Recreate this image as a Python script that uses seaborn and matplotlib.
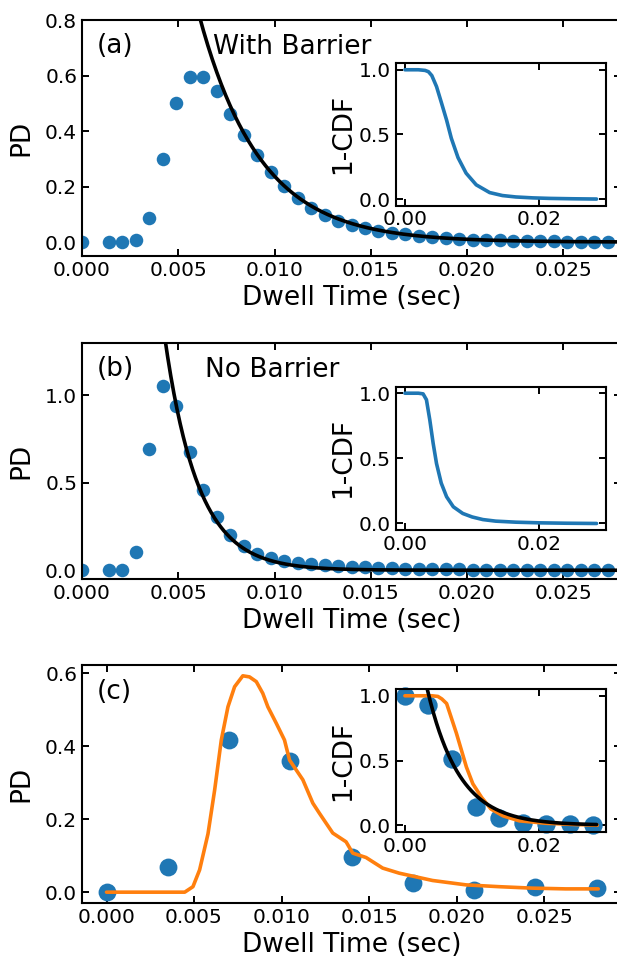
import numpy as np
import pandas as pd
import matplotlib
matplotlib.use("Agg")
import matplotlib.pyplot as plt
import seaborn as sns

# ---------------- data ----------------
bin_width = 0.0007
t_bins = np.arange(40) * bin_width

pd_a = [0.0, np.nan, 0.0, 0.0, 0.007, 0.087, 0.300, 0.500, 0.595, 0.595,
        0.543, 0.463, 0.386, 0.313, 0.253, 0.203, 0.159, 0.122, 0.097, 0.075,
        0.061, 0.050, 0.041, 0.034, 0.028, 0.022, 0.018, 0.014, 0.011, 0.009,
        0.007, 0.006, 0.005, 0.004, 0.003, 0.003, 0.002, 0.002, 0.001, 0.001]

pd_b = [0.0, np.nan, 0.0, 0.0, 0.105, 0.694, 1.053, 0.939, 0.678, 0.460,
        0.302, 0.200, 0.137, 0.093, 0.071, 0.054, 0.042, 0.034, 0.028, 0.023,
        0.019, 0.016, 0.013, 0.011, 0.009, 0.008, 0.007, 0.006, 0.005, 0.004,
        0.004, 0.003, 0.003, 0.002, 0.002, 0.002, 0.001, 0.001, 0.001, 0.001]

# exponential fits (amplitude, decay time)
fit_a_amp, fit_a_tau = 5.57, 0.00317
fit_b_amp, fit_b_tau = 15.96, 0.00173
fit_c_amp, fit_c_tau = 2.11, 0.00477

# inset 1-CDF curves
cdf_a_t = [0, 0.001, 0.002, 0.003, 0.0035, 0.004, 0.0047, 0.0054, 0.0062, 0.0069,
           0.0079, 0.0091, 0.0106, 0.0126, 0.0145, 0.0165, 0.019, 0.0215, 0.025, 0.0285]
cdf_a_v = [1.0, 1.0, 1.0, 0.995, 0.985, 0.955, 0.87, 0.75, 0.61, 0.47,
           0.32, 0.20, 0.11, 0.05, 0.027, 0.016, 0.009, 0.005, 0.002, 0.0]

cdf_b_t = [0, 0.001, 0.002, 0.0027, 0.0032, 0.0037, 0.0042, 0.0047, 0.0054, 0.0062,
           0.0072, 0.0086, 0.010, 0.0116, 0.0135, 0.0165, 0.020, 0.024, 0.0285]
cdf_b_v = [1.0, 1.0, 1.0, 0.995, 0.95, 0.795, 0.615, 0.46, 0.31, 0.205,
           0.128, 0.077, 0.05, 0.03, 0.018, 0.01, 0.005, 0.002, 0.0]

# panel (c): experiment points and simulation curve
t_exp = [0.0, 0.0035, 0.007, 0.0105, 0.014, 0.0175, 0.021, 0.0245, 0.028]
pd_exp = [0.0, 0.07, 0.417, 0.36, 0.0975, 0.026, 0.006, 0.014, 0.011]
cdf_exp = [1.0, 0.93, 0.514, 0.137, 0.052, 0.02, 0.013, 0.008, 0.0]

sim_t = [0, 0.002, 0.00447, 0.00494, 0.00532, 0.0058, 0.00618, 0.00656, 0.00694, 0.00732,
         0.00779, 0.00817, 0.00856, 0.00893, 0.00922, 0.0097, 0.01017, 0.01046, 0.01084,
         0.01122, 0.01179, 0.01217, 0.01293, 0.01369, 0.01407, 0.01483, 0.01578, 0.01673,
         0.01863, 0.02054, 0.02244, 0.02434, 0.02624, 0.0281]
sim_pd = [0, 0, 0, 0.015, 0.061, 0.16, 0.28, 0.417, 0.508, 0.563,
          0.593, 0.59, 0.577, 0.545, 0.508, 0.463, 0.417, 0.362, 0.335,
          0.308, 0.244, 0.216, 0.162, 0.138, 0.107, 0.095, 0.066, 0.052,
          0.032, 0.02, 0.015, 0.011, 0.009, 0.009]

sim_cdf_t = [0, 0.002, 0.004, 0.0049, 0.0055, 0.0062, 0.0069, 0.00766, 0.0084, 0.00914,
             0.0101, 0.0114, 0.0128, 0.0146, 0.017, 0.021, 0.025, 0.0286]
sim_cdf_v = [1.0, 1.0, 1.0, 0.995, 0.975, 0.94, 0.83, 0.71, 0.58, 0.45,
             0.32, 0.215, 0.125, 0.072, 0.034, 0.015, 0.006, 0.0]

main_xticks = [0.0, 0.005, 0.010, 0.015, 0.020, 0.025]
main_xticklabels = ["0.000", "0.005", "0.010", "0.015", "0.020", "0.025"]
inset_xticks = [0.0, 0.02]
inset_xticklabels = ["0.00", "0.02"]
inset_yticks = [0.0, 0.5, 1.0]
inset_yticklabels = ["0.0", "0.5", "1.0"]

# ---------------- style ----------------
sns.set_style("ticks")
plt.rcParams["font.family"] = ["DejaVu Sans"]
plt.rcParams.update({"text.color": "black", "axes.labelcolor": "black",
                     "xtick.color": "black", "ytick.color": "black",
                     "axes.edgecolor": "black"})
BLUE = "#1f77b4"
ORANGE = "#ff7f0e"
TICK_FS = 14.5
LABEL_FS = 19

fig = plt.figure(figsize=(6.17, 9.57), dpi=100)
W, H = 617.0, 957.0


def ax_px(left, top, right, bottom):
    return fig.add_axes([left / W, 1 - bottom / H, (right - left) / W, (bottom - top) / H])


def style(ax, fs=TICK_FS):
    ax.tick_params(direction="in", top=True, right=True, labelsize=fs,
                   length=5, width=1.4, colors="black")
    for s in ax.spines.values():
        s.set_linewidth(1.5)
        s.set_color("black")
        s.set_visible(True)


MAIN_L, MAIN_R = 82, 621
INS_L, INS_R = 395.5, 606

axa = ax_px(MAIN_L, 20, MAIN_R, 256)
axb = ax_px(MAIN_L, 342.7, MAIN_R, 579)
axc = ax_px(MAIN_L, 665, MAIN_R, 903)

ia = ax_px(INS_L, 63.3, INS_R, 205.5)
ib = ax_px(INS_L, 386.7, INS_R, 530)
ic = ax_px(INS_L, 689.3, INS_R, 831.7)

fit_t_a = np.linspace(0.005, 0.028, 300)
fit_t_b = np.linspace(0.0038, 0.028, 300)
fit_t_c = np.linspace(0.0025, 0.0285, 300)

for ax, pdv, amp, tau, ft, ylim, yt, ytl, lab, txt, txtx in [
        (axa, pd_a, fit_a_amp, fit_a_tau, fit_t_a, (-0.05, 0.8),
         [0.0, 0.2, 0.4, 0.6, 0.8], ["0.0", "0.2", "0.4", "0.6", "0.8"], "(a)", "With Barrier", 0.243),
        (axb, pd_b, fit_b_amp, fit_b_tau, fit_t_b, (-0.05, 1.3),
         [0.0, 0.5, 1.0], ["0.0", "0.5", "1.0"], "(b)", "No Barrier", 0.228)]:
    dfp = pd.DataFrame({"t": t_bins, "pd": pdv}).dropna()
    sns.scatterplot(data=dfp, x="t", y="pd", ax=ax, color=BLUE, s=95,
                    linewidth=0, zorder=2)
    dff = pd.DataFrame({"t": ft, "fit": amp * np.exp(-ft / tau)})
    sns.lineplot(data=dff, x="t", y="fit", ax=ax, color="black", lw=2.6, zorder=3)
    ax.set_xlim(0, 0.028)
    ax.set_ylim(*ylim)
    ax.set_yticks(yt)
    ax.set_yticklabels(ytl)
    ax.set_xticks(main_xticks)
    ax.set_xticklabels(main_xticklabels)
    ax.set_xlabel("Dwell Time (sec)", fontsize=LABEL_FS, labelpad=4)
    ax.set_ylabel("PD", fontsize=LABEL_FS, labelpad=8)
    ax.text(0.027, 0.89, lab, transform=ax.transAxes, fontsize=LABEL_FS, va="center", ha="left")
    ax.text(txtx, 0.885, txt, transform=ax.transAxes, fontsize=LABEL_FS, va="center", ha="left")
    style(ax)

# (c) main
sns.scatterplot(x=t_exp, y=pd_exp, ax=axc, color=BLUE, s=165, linewidth=0, zorder=2)
sns.lineplot(x=sim_t, y=sim_pd, ax=axc, color=ORANGE, lw=2.6, zorder=3, sort=False)
axc.set_xlim(-0.0014, 0.0294)
axc.set_ylim(-0.0297, 0.6226)
axc.set_yticks([0.0, 0.2, 0.4, 0.6])
axc.set_yticklabels(["0.0", "0.2", "0.4", "0.6"])
axc.set_xticks(main_xticks)
axc.set_xticklabels(main_xticklabels)
axc.set_xlabel("Dwell Time (sec)", fontsize=LABEL_FS, labelpad=4)
axc.set_ylabel("PD", fontsize=LABEL_FS, labelpad=8)
axc.text(0.027, 0.888, "(c)", transform=axc.transAxes, fontsize=LABEL_FS, va="center", ha="left")
style(axc)

# insets
sns.lineplot(x=cdf_a_t, y=cdf_a_v, ax=ia, color=BLUE, lw=2.6, sort=False)
sns.lineplot(x=cdf_b_t, y=cdf_b_v, ax=ib, color=BLUE, lw=2.6, sort=False)
sns.scatterplot(x=t_exp, y=cdf_exp, ax=ic, color=BLUE, s=175, linewidth=0, zorder=2, clip_on=False)
sns.lineplot(x=sim_cdf_t, y=sim_cdf_v, ax=ic, color=ORANGE, lw=2.6, sort=False, zorder=3)
dfc = pd.DataFrame({"t": fit_t_c, "fit": fit_c_amp * np.exp(-fit_t_c / fit_c_tau)})
sns.lineplot(data=dfc, x="t", y="fit", ax=ic, color="black", lw=2.6, zorder=4)

for ia_ in (ia, ib, ic):
    ia_.set_xlim(-0.0014, 0.0299)
    ia_.set_ylim(-0.05, 1.05)
    ia_.set_xticks(inset_xticks)
    ia_.set_xticklabels(inset_xticklabels)
    ia_.set_yticks(inset_yticks)
    ia_.set_yticklabels(inset_yticklabels)
    ia_.set_xlabel("")
    ia_.set_ylabel("1-CDF", fontsize=LABEL_FS, labelpad=2)
    ia_.set_facecolor("white")
    style(ia_)

fig.savefig("out.png", dpi=100)
